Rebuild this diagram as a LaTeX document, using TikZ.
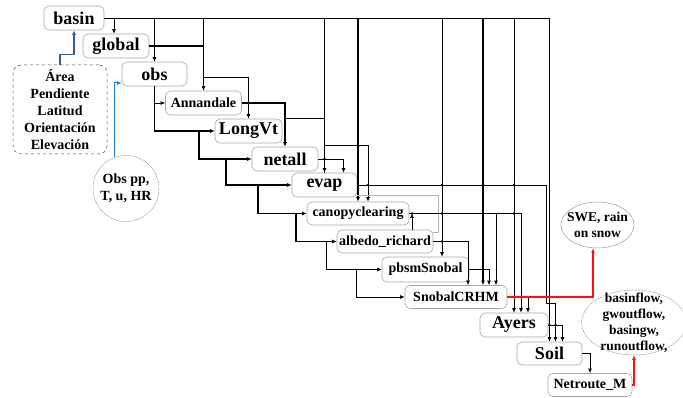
\documentclass[tikz,border=0pt]{standalone}
\usepackage{fontspec}
\setmainfont{Liberation Serif}
\usetikzlibrary{arrows.meta,shapes.geometric}
\definecolor{attrblue}{HTML}{3A56A8}
\definecolor{obsblue}{HTML}{1F80D6}
\definecolor{outred}{HTML}{FF1010}
\tikzset{
  mod/.style={draw=gray!70, line width=0.6pt, rounded corners=5pt, inner sep=0pt,
    minimum height=24, font=\bfseries\fontsize{14}{16}\selectfont},
  modbig/.style={mod, font=\bfseries\fontsize{18}{20}\selectfont},
  info/.style={draw=gray!80, line width=0.5pt, align=center,
    font=\bfseries\fontsize{13.5}{16}\selectfont},
  wire/.style={line width=0.8pt},
  wirebold/.style={line width=1.6pt},
  redwire/.style={draw=outred, line width=1.4pt},
  tip/.style={-{Latex[length=4.5pt,width=4pt]}},
}
\begin{document}
\begin{tikzpicture}[x=1pt, y=-1pt]
	\useasboundingbox (0,0) rectangle (683,398);
	% modules
	\node[modbig, minimum width=60] (basin) at (74,18) {basin};
	\node[modbig, minimum width=66] (global) at (116,46) {global};
	\node[modbig, minimum width=65] (obs) at (154.5,74) {obs};
	\node[mod, minimum width=76] (Annandale) at (203.5,103) {Annandale};
	\node[modbig, minimum width=67] (LongVt) at (248.5,131) {LongVt};
	\node[modbig, minimum width=66] (netall) at (285,159) {netall};
	\node[modbig, minimum width=65] (evap) at (324.5,185) {evap};
	\node[mod, minimum width=102, minimum height=23] (canopy) at (358,213.5) {canopyclearing};
	\node[mod, minimum width=96, minimum height=23] (albedo) at (385,241.5) {albedo\_richard};
	\node[mod, minimum width=87, minimum height=25] (pbsm) at (425.5,269.5) {pbsmSnobal};
	\node[mod, minimum width=102, minimum height=23] (snobal) at (456,297) {SnobalCRHM};
	\node[modbig, minimum width=68] (ayers) at (514,325) {Ayers};
	\node[modbig, minimum width=65, minimum height=23] (soil) at (549.5,353.5) {Soil};
	\node[mod, minimum width=84, minimum height=23] (netroute) at (590,385) {Netroute\_M};
	% inputs and outputs
	\node[info, draw=black!75, dashed, rounded corners=8pt, inner sep=0pt, minimum width=94,
		minimum height=89, font=\bfseries\fontsize{14}{17}\selectfont] (attrs) at (60,109.5)
		{Área\\Pendiente\\Latitud\\Orientación\\Elevación};
	\node[info, circle, dash pattern=on 2pt off 0.8pt, inner sep=0pt, minimum size=66,
		font=\bfseries\fontsize{14}{17}\selectfont] (obspp) at (126,188.5) {Obs pp,\\T, u, HR};
	\node[info, ellipse, inner xsep=-4.5pt, inner ysep=2pt, minimum width=69,
		minimum height=46] (swe) at (597.5,225) {SWE, rain\\on snow};
	\node[info, ellipse, dash pattern=on 2pt off 0.8pt, inner xsep=3.5pt, inner ysep=-7pt,
		minimum width=98, minimum height=65] (flows) at (634,322.5)
		{basinflow,\\gwoutflow,\\basingw,\\runoutflow,};
	% entry points
	\coordinate (glIn) at ([xshift=-2]global.north);
	\coordinate (evIn) at ([xshift=19]evap.north);
	\coordinate (caIn) at ([xshift=10]canopy.north);
	\coordinate (pbIn) at ([xshift=16.5]pbsm.north);
	\coordinate (snIn1) at ([xshift=12]snobal.north);
	\coordinate (snIn2) at ([xshift=27]snobal.north);
	\coordinate (snIn3) at ([xshift=33]snobal.north);
	\coordinate (snIn4) at ([xshift=40]snobal.north);
	\coordinate (ayIn2) at ([xshift=7]ayers.north);
	\coordinate (ayIn3) at ([xshift=14]ayers.north);
	\coordinate (soIn2) at ([xshift=6]soil.north);
	\coordinate (soIn3) at ([xshift=13]soil.north);
	\coordinate (alUp) at ([xshift=27]albedo.north);
	\coordinate (evBend) at ([xshift=39,yshift=-6]snobal.east);
	\coordinate (sweIn) at ([xshift=-4.5]swe.south);
	% basin bus
	\draw[wire] (basin.east) -- (basin.east -| soil.north);
	\draw[wire,tip] (basin.east -| glIn) -- (glIn);
	\draw[wire,tip] (basin.east -| obs.north) -- (obs.north);
	\draw[wire,tip] (basin.east -| Annandale.north) -- (Annandale.north);
	\draw[wire,tip] (basin.east -| evap.north) -- (evap.north);
	\draw[wirebold,tip] (basin.east -| canopy.north) -- (canopy.north);
	\draw[wire,tip] (basin.east -| pbIn) -- (pbIn);
	\draw[wirebold,tip] (basin.east -| snIn2) -- (snIn2);
	\draw[wire,tip] (basin.east -| ayers.north) -- (ayers.north);
	\draw[wire,tip] (basin.east -| soil.north) -- (soil.north);
	% global
	\draw[wirebold] (global.east) -| ([yshift=5]Annandale.north);
	\draw[wire,tip] (Annandale.north |- obs.east) ++(0,3) -| (LongVt.north);
	% obs cascade
	\draw[wirebold,tip] (obs.south) |- (LongVt.west);
	\draw[wire,tip] (obs.south |- Annandale.west) -- (Annandale.west);
	\draw[wirebold,tip] ([xshift=-16]LongVt.west) |- (netall.west);
	\draw[wirebold,tip] ([xshift=-26]netall.west) |- (evap.west);
	\draw[wirebold,tip] ([xshift=-34]evap.west) |- (canopy.west);
	\draw[wirebold,tip] ([xshift=-11]canopy.west) |- (albedo.west);
	\draw[wire,tip] ([xshift=-10]albedo.west) |- (pbsm.west);
	\draw[wire,tip] ([xshift=-25]pbsm.west) |- (snobal.west);
	% Annandale, netall
	\draw[wirebold,tip] (Annandale.east) -| (netall.north);
	\draw[wire] (netall.north |- Annandale.east) ++(0,15) -| (evap.north);
	\draw[wire,tip] (netall.east) -| (evIn);
	\draw[wire,tip] (evap.north |- netall.north) ++(0,-1) -| (caIn);
	% evap
	\draw[wire,tip] (evap.east) -| (evBend) -| (soIn2);
	\draw[gray!60, line width=0.8pt] (evap.east) ++(0,10) -| ([xshift=5,yshift=9.5]albedo.east)
		-- ([yshift=9.5]albedo.east);
	% canopyclearing, albedo_richard, pbsmSnobal
	\draw[wire,tip] (canopy.east) -| (ayIn2);
	\draw[wire,tip] (canopy.east -| snIn4) -- (snIn4);
	\draw[wire,tip] (alUp) -- (alUp |- canopy.east);
	\draw[wire,tip] (albedo.east) -| (snIn1);
	\draw[wire,tip] (pbsm.east) -| (snIn3);
	% SnobalCRHM, Ayers, Soil, Netroute_M
	\draw[wire,tip] (snobal.east -| ayIn3) -- (ayIn3);
	\draw[wire,tip] (ayers.east) -| (soIn3);
	\draw[wire,tip] (soil.east) -| (netroute.north);
	% data inputs
	\draw[attrblue, line width=1.2pt, tip] (attrs.north) -- ++(0,-10) -| (basin.south);
	\draw[obsblue, line width=1pt, tip] (obspp.110) |- ([yshift=-9]obs.west);
	% junctions
	\fill (obs.north |- global.east) circle (1.3);
	\fill (LongVt.north |- Annandale.east) circle (1.3);
	\fill (evap.north |- netall.east) circle (1.3);
	\fill (canopy.north |- netall.north) circle (1.3);
	\fill (caIn |- evap.east) circle (1.3);
	\fill (pbIn |- evap.east) circle (1.3);
	\fill (snIn2 |- evap.east) circle (1.3);
	\fill (ayers.north |- evap.east) circle (1.3);
	\fill (alUp |- canopy.east) circle (1.3);
	\fill (pbIn |- canopy.east) circle (1.3);
	\fill (snIn2 |- canopy.east) circle (1.3);
	\fill (ayers.north |- canopy.east) circle (1.3);
	\fill (pbIn |- albedo.east) circle (1.3);
	\fill (snIn2 |- pbsm.east) circle (1.3);
	\fill (soil.north |- ayers.east) circle (1.3);
	\fill (soIn2 |- ayers.east) circle (1.3);
	% outputs
	\draw[redwire, tip] (snobal.east) -| (sweIn);
	\draw[redwire, tip] (netroute.east) -| (flows.south);
	\fill[outred] (ayers.north |- snobal.east) circle (1.5);
	\fill[outred] (ayIn2 |- snobal.east) circle (1.5);
	\fill[outred] (evBend |- snobal.east) circle (1.5);
	\fill[outred] (soil.north |- snobal.east) circle (1.5);
\end{tikzpicture}
\end{document}
